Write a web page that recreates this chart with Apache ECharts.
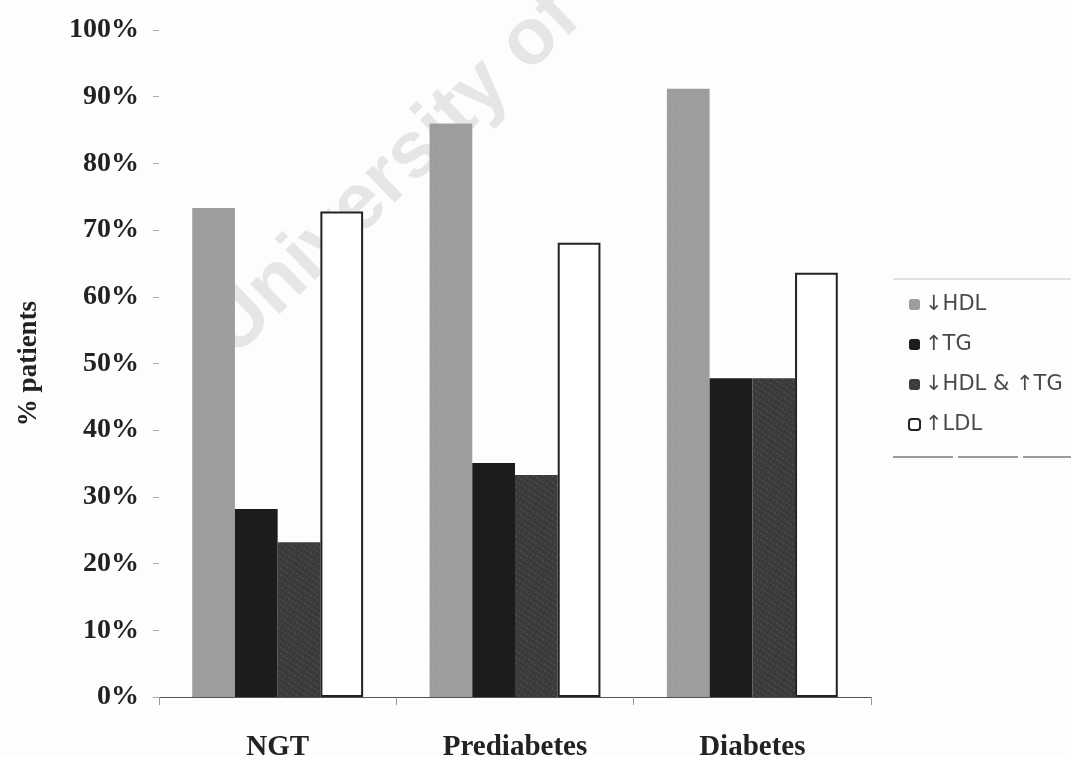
<!DOCTYPE html>
<html>
<head>
<meta charset="utf-8">
<script src="https://cdn.jsdelivr.net/npm/echarts@6/dist/echarts.min.js"></script>
<style>
  html, body { margin: 0; padding: 0; background: #fdfdfd; }
  #chart { width: 1071px; height: 757px; }
</style>
</head>
<body>
<div id="chart"></div>
<script>
// Glucose tolerance groups
const categories = ['NGT', 'Prediabetes', 'Diabetes'];

// Share of patients (%) with each lipid abnormality
const hdlLow = [73.3, 86.0, 91.2];
const tgHigh = [28.2, 35.1, 47.8];
const hdlTgBoth = [23.2, 33.3, 47.8];
const ldlHigh = [72.8, 68.1, 63.6];

const seriesNames = ['\u2193HDL', '\u2191TG', '\u2193HDL & \u2191TG', '\u2191LDL'];

const serif = '"Liberation Serif", "DejaVu Serif", serif';
const sans = '"Liberation Sans", "DejaVu Sans", sans-serif';
const wideSans = '"DejaVu Sans", "Liberation Sans", sans-serif';

const chart = echarts.init(document.getElementById('chart'), null, { renderer: 'canvas' });

const option = {
  backgroundColor: '#fdfdfd',
  animation: false,
  grid: { left: 159, right: 200, top: 30, bottom: 60, containLabel: false, outerBoundsMode: 'none' },
  legend: {
    orient: 'vertical',
    left: 903,
    top: 289,
    itemWidth: 11,
    itemHeight: 11,
    itemGap: 19,
    textStyle: { fontFamily: wideSans, fontSize: 21, color: '#4a4a4a' },
    data: seriesNames
  },
  xAxis: {
    type: 'category',
    data: categories,
    axisLine: { show: true, lineStyle: { color: '#555', width: 1 } },
    axisTick: { show: true, length: 8, lineStyle: { color: '#999' } },
    axisLabel: {
      margin: 36,
      fontFamily: serif,
      fontSize: 29,
      fontWeight: 'bold',
      color: '#222'
    }
  },
  yAxis: {
    type: 'value',
    min: 0,
    max: 100,
    interval: 10,
    name: '% patients',
    nameLocation: 'middle',
    nameRotate: 90,
    nameGap: 116,
    nameTextStyle: { fontFamily: serif, fontSize: 27, fontWeight: 'bold', color: '#222' },
    splitLine: { show: false },
    axisLine: { show: false },
    axisTick: { show: true, length: 6, lineStyle: { color: '#aaa' } },
    axisLabel: {
      margin: 20,
      fontFamily: serif,
      fontSize: 28,
      fontWeight: 'bold',
      color: '#222',
      formatter: '{value}%'
    }
  },
  series: [
    {
      name: seriesNames[0],
      type: 'bar',
      data: hdlLow,
      barGap: '0%',
      barCategoryGap: '28%',
      itemStyle: {
        color: '#9e9e9e',
        decal: { symbol: 'rect', symbolSize: 0.5, dashArrayX: [2, 3], dashArrayY: [2, 3], color: 'rgba(120,120,120,0.35)', rotation: 0 }
      }
    },
    {
      name: seriesNames[1],
      type: 'bar',
      data: tgHigh,
      itemStyle: { color: '#1c1c1c' }
    },
    {
      name: seriesNames[2],
      type: 'bar',
      data: hdlTgBoth,
      itemStyle: {
        color: '#3a3a3a',
        decal: { symbol: 'rect', symbolSize: 0.6, dashArrayX: [2, 2], dashArrayY: [2, 3], color: 'rgba(140,140,140,0.6)', rotation: 0.6 }
      }
    },
    {
      name: seriesNames[3],
      type: 'bar',
      data: ldlHigh,
      itemStyle: { color: '#ffffff', borderColor: '#222', borderWidth: 2 }
    }
  ],
  graphic: [
    // legend frame: thin rule above, darker rule below
    {
      type: 'line',
      shape: { x1: 893, y1: 279, x2: 1071, y2: 279 },
      style: { stroke: '#c8c8c8', lineWidth: 1 },
      z: 10
    },
    {
      type: 'line',
      shape: { x1: 893, y1: 457, x2: 1071, y2: 457 },
      style: { stroke: '#3a3a3a', lineWidth: 1.2, lineDash: [60, 5] },
      z: 10
    },
    // diagonal repository stamp, sitting behind the bars
    {
      type: 'text',
      x: 393,
      y: 174,
      rotation: 0.768,
      z: -1,
      silent: true,
      style: {
        text: 'University of',
        font: 'bold 80px ' + sans,
        fill: '#e6e6e6',
        align: 'center',
        verticalAlign: 'middle'
      }
    }
  ]
};

chart.setOption(option);
</script>
</body>
</html>
